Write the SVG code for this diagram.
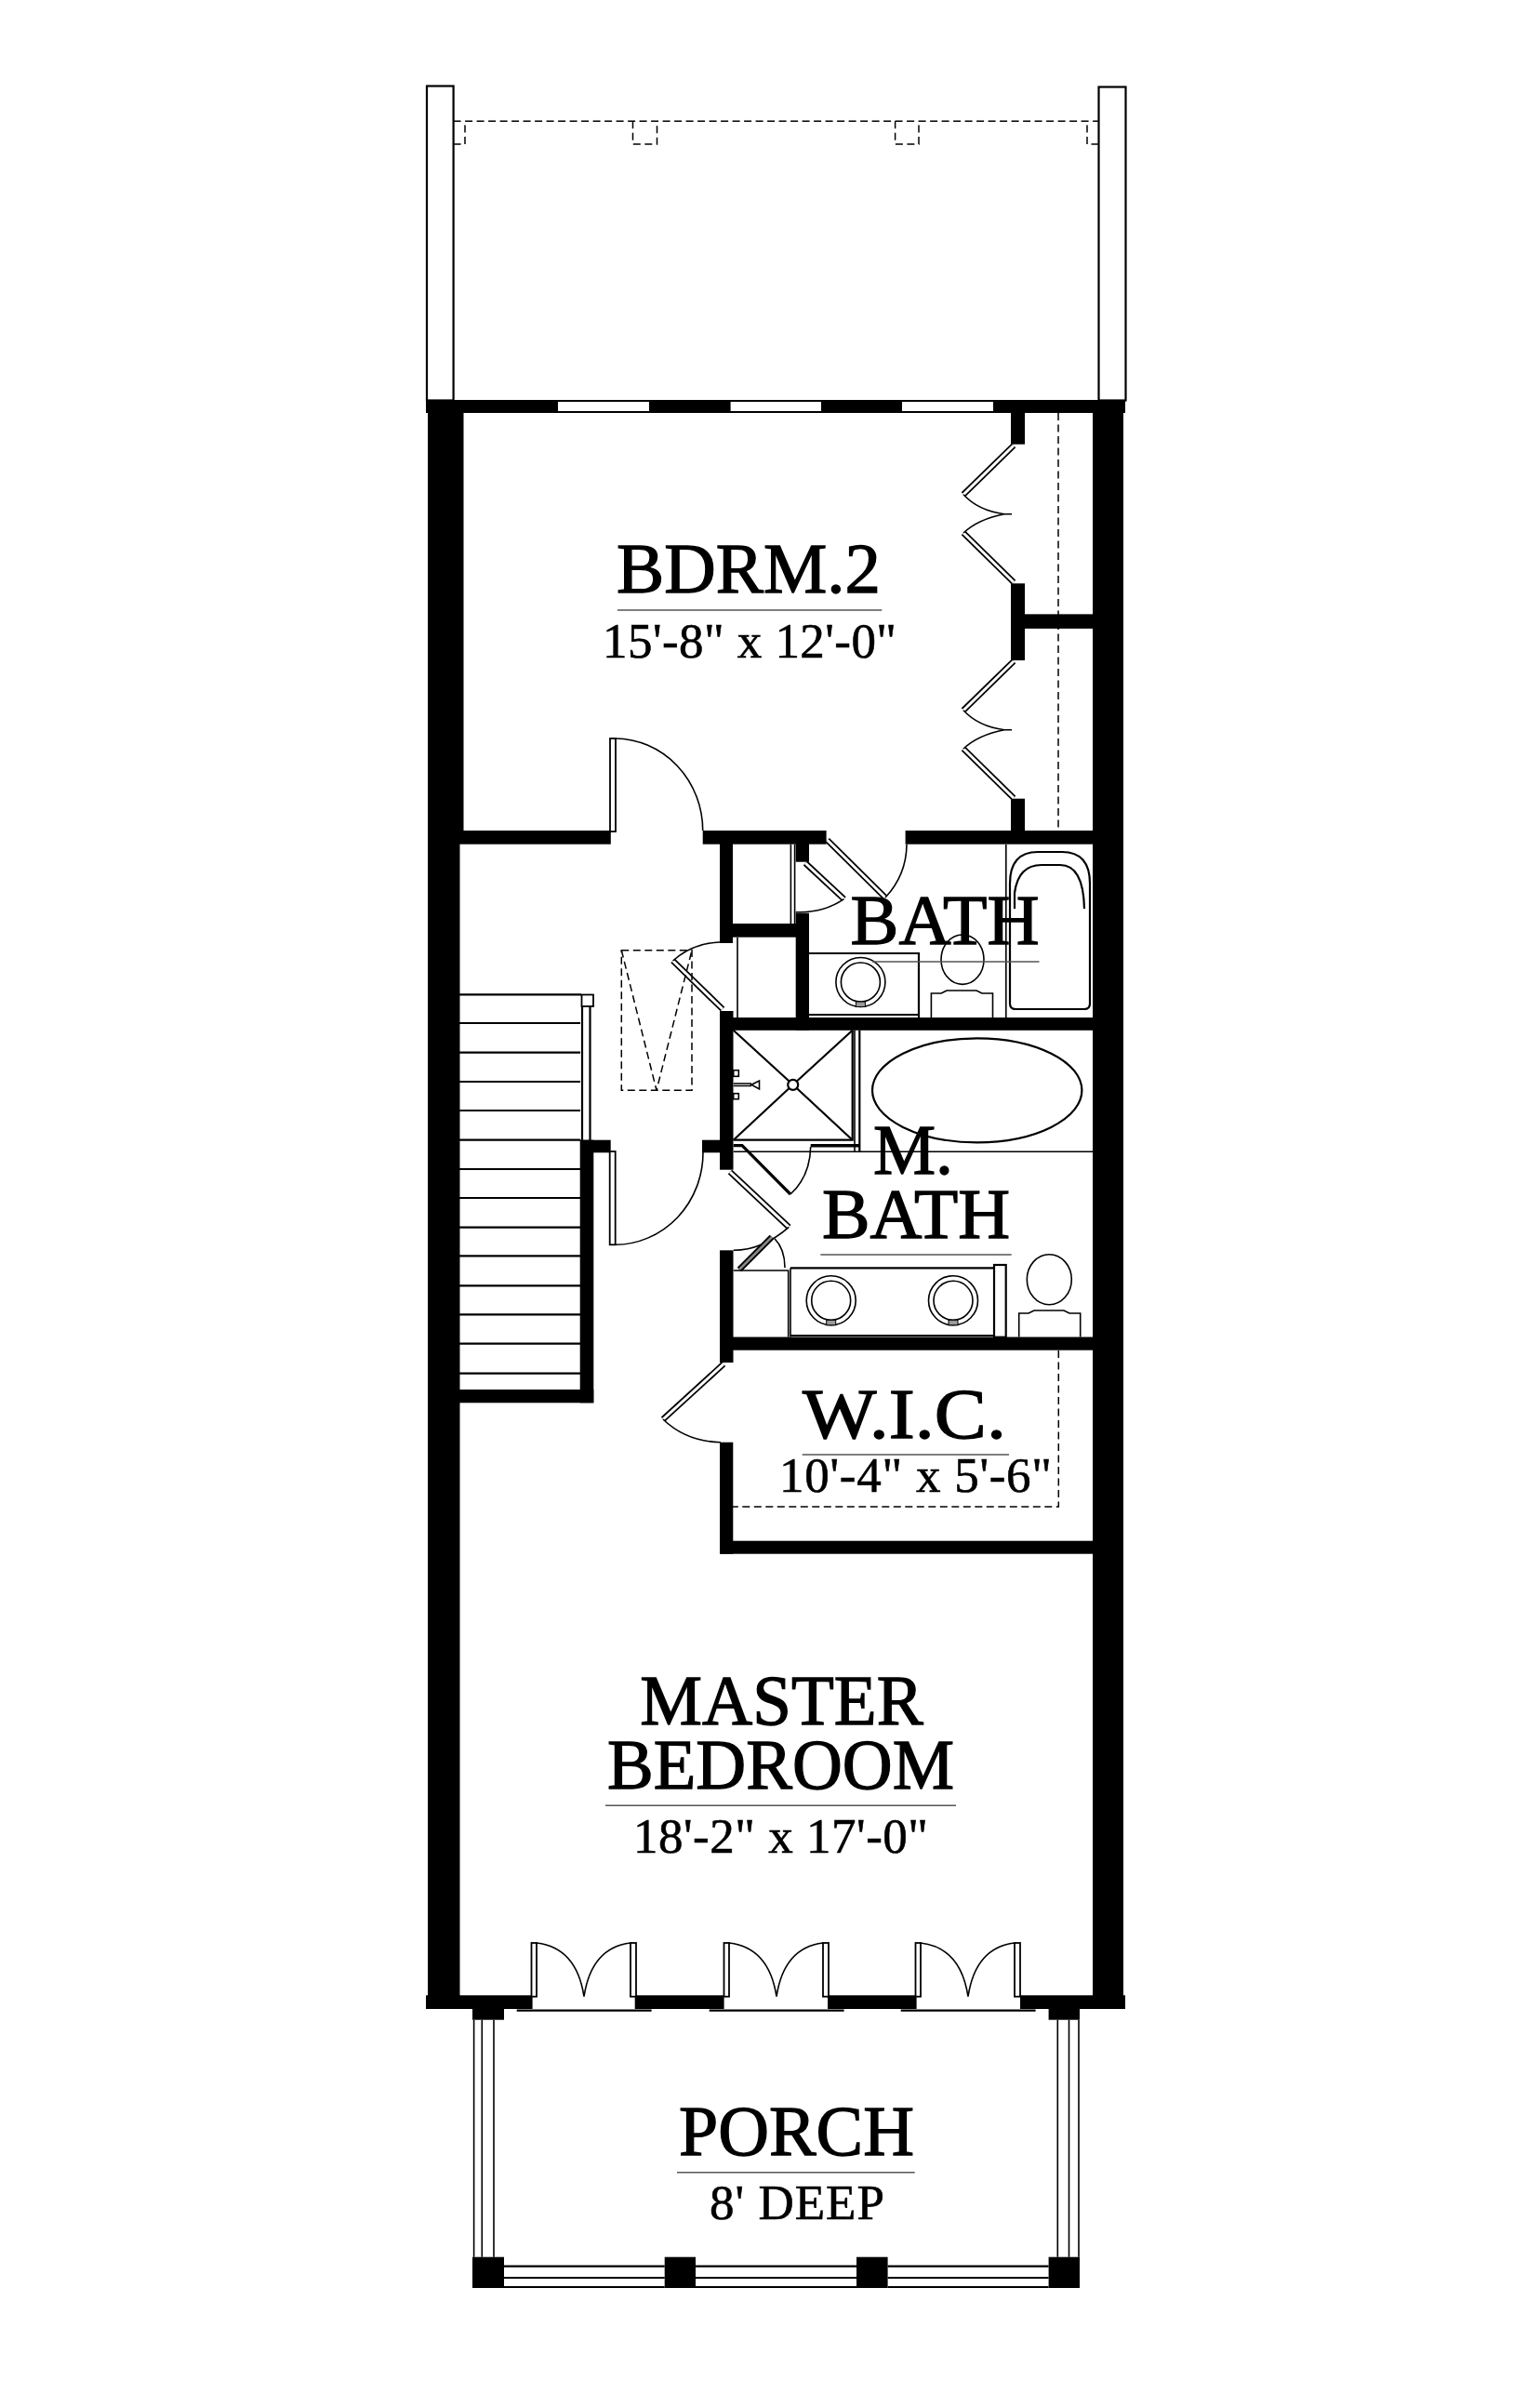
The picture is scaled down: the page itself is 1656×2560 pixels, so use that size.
<svg xmlns="http://www.w3.org/2000/svg" xmlns:xlink="http://www.w3.org/1999/xlink" width="1656" height="2560" viewBox="0 0 1656 2560">
<style>
.w{fill:#000}
.l{fill:none;stroke:#000;stroke-width:1.6}
.t{fill:none;stroke:#000;stroke-width:2.2}
.d{fill:none;stroke:#000;stroke-width:1.5;stroke-dasharray:8 4.5}
.r{fill:none;stroke:#555;stroke-width:1.5}
.lo{stroke:#000;stroke-width:6.5;fill:none}
.li{stroke:#fff;stroke-width:3;fill:none}
.wh{fill:#fff;stroke:#000;stroke-width:1.8}
.cap{font-family:"Liberation Serif","Times New Roman",serif;font-size:77px;fill:#000;stroke:#000;stroke-width:1.3}
.dim{font-family:"Liberation Serif","Times New Roman",serif;font-size:53px;fill:#000;stroke:#000;stroke-width:.6}
</style>
<defs>
<g id="sink"><circle r="26.5" class="l"/><circle r="21" class="l"/><rect x="-5" y="21" width="10" height="5.5" fill="#999" stroke="#000" stroke-width="1"/></g>
<g id="bifold">
<line class="lo" x1="1090" y1="479" x2="1036" y2="531.7"/><line class="li" x1="1090" y1="479" x2="1036" y2="531.7"/>
<line class="lo" x1="1036" y1="573" x2="1090" y2="626"/><line class="li" x1="1036" y1="573" x2="1090" y2="626"/>
<path class="l" d="M1036 531.7Q1052 549 1080 552.7L1088 552.7M1036 573Q1052 558 1080 552.7"/>
</g>
<g id="french">
<rect class="wh" x="571.5" y="2089" width="5.5" height="57.7"/><rect class="wh" x="678" y="2089" width="6" height="57.7"/>
<path class="l" d="M577 2089Q620 2094 628 2146.7Q636 2094 678 2089"/>
<line class="t" x1="555.7" y1="2161.7" x2="700.6" y2="2161.7"/>
</g>
</defs>
<rect width="1656" height="2560" fill="#fff"/>

<g id="upper-deck">
<rect class="t" x="459" y="92.5" width="28.6" height="338" fill="none"/>
<rect class="t" x="1181.5" y="93.5" width="29" height="337" fill="none"/>
<line class="d" x1="487.6" y1="130.3" x2="1181.5" y2="130.3"/>
<path class="d" d="M487.6 155H500V130.3M680.5 130.3V155H706.5V130.3M962.6 130.3V155H988V130.3M1181.5 155H1169V130.3"/>
</g>

<g id="walls" class="w">
<rect x="458" y="430" width="752" height="14"/>
<rect x="460" y="430" width="34.5" height="1730"/>
<rect x="460" y="430" width="38.5" height="477"/>
<rect x="1175" y="430" width="33" height="1730"/>
<rect x="494" y="893" width="162.8" height="14.7"/>
<rect x="755.7" y="893" width="132.9" height="14.7"/>
<rect x="973.6" y="893" width="202" height="14.7"/>
<rect x="1087" y="444" width="15" height="33.7"/>
<rect x="1087" y="627.3" width="15" height="82.7"/>
<rect x="1087" y="858.7" width="15" height="34.5"/>
<rect x="1102" y="660.7" width="73" height="15"/>
<rect x="774" y="907" width="14" height="107"/>
<rect x="788" y="993" width="68" height="14.7"/>
<rect x="855.7" y="981.7" width="14.3" height="126"/>
<rect x="855.7" y="907" width="14.3" height="19.7"/>
<rect x="774" y="1094" width="401" height="13.8"/>
<rect x="774" y="1087" width="14.5" height="170.7"/>
<rect x="624" y="1225.7" width="32.7" height="13.6"/>
<rect x="755" y="1225.7" width="20" height="13.6"/>
<rect x="623.7" y="1225.7" width="14.6" height="282.6"/>
<rect x="494" y="1494" width="144.3" height="14.3"/>
<rect x="774" y="1344.3" width="14.5" height="120.7"/>
<rect x="774" y="1437.5" width="401" height="14.2"/>
<rect x="774" y="1550.7" width="14.3" height="120"/>
<rect x="774" y="1656.7" width="401" height="14"/>
<rect x="458" y="2145.3" width="114.6" height="14.7"/>
<rect x="682.7" y="2145.3" width="95.9" height="14.7"/>
<rect x="890" y="2145.3" width="95.6" height="14.7"/>
<rect x="1097" y="2145.3" width="113" height="14.7"/>
<rect x="508" y="2160" width="34" height="11.7"/>
<rect x="1127.6" y="2160" width="33.4" height="11.7"/>
<rect x="508" y="2426.7" width="34" height="33.3"/>
<rect x="714.7" y="2426.7" width="33.3" height="33.3"/>
<rect x="921" y="2426.7" width="33.6" height="33.3"/>
<rect x="1127.6" y="2426.7" width="33.4" height="33.3"/>
</g>

<g id="windows" fill="#fff">
<rect x="600" y="432" width="98" height="10"/>
<rect x="785.6" y="432" width="97.4" height="10"/>
<rect x="970" y="432" width="98" height="10"/>
</g>

<g id="bdrm2-closets">
<line class="d" x1="1138" y1="444" x2="1138" y2="893"/>
<line class="w" x1="1102" y1="668" x2="1175" y2="668" stroke="#000" stroke-width="15"/>
<use xlink:href="#bifold" href="#bifold"/>
<use xlink:href="#bifold" href="#bifold" transform="translate(0 232)"/>
</g>

<g id="doors">
<rect class="wh" x="656" y="794" width="6" height="100"/>
<path class="l" d="M662 794A95 99 0 0 1 755.7 893"/>
<rect class="wh" x="655.7" y="1238" width="6" height="100.3"/>
<path class="l" d="M661.7 1338.3A95 99 0 0 0 756 1239"/>
<line class="lo" x1="889.6" y1="903.3" x2="952" y2="965"/><line class="li" x1="889.6" y1="903.3" x2="952" y2="965"/>
<path class="l" d="M952 965A85 85 0 0 0 975 907.7"/>
<line class="lo" x1="866" y1="928" x2="907.5" y2="966.7"/><line class="li" x1="866" y1="928" x2="907.5" y2="966.7"/>
<path class="l" d="M907.5 966.7Q885 982 855.7 980.7"/>
<line class="lo" x1="723.6" y1="1033" x2="777" y2="1085"/><line class="li" x1="723.6" y1="1033" x2="777" y2="1085"/>
<path class="l" d="M723.6 1033Q745 1014 774 1013"/>
<line class="lo" x1="785" y1="1260" x2="848.3" y2="1319.3"/><line class="li" x1="785" y1="1260" x2="848.3" y2="1319.3"/>
<path class="l" d="M848.3 1319.3Q820 1344 788.7 1344.3"/>
<path d="M788.7 1231.7H798L850 1284" fill="none" stroke="#000" stroke-width="3.2"/>
<path class="l" d="M850 1284Q871 1265 871.7 1233"/>
<line x1="795" y1="1365" x2="830" y2="1330" stroke="#000" stroke-width="6.5"/><line x1="795" y1="1365" x2="830" y2="1330" stroke="#888" stroke-width="2.5"/>
<path class="l" d="M833 1331.7Q844 1343 844 1363"/>
<line class="lo" x1="778" y1="1466.7" x2="713" y2="1526"/><line class="li" x1="778" y1="1466.7" x2="713" y2="1526"/>
<path class="l" d="M713 1526Q738 1550 775 1550.7"/>
<use xlink:href="#french" href="#french"/>
<use xlink:href="#french" href="#french" transform="translate(207 0)"/>
<use xlink:href="#french" href="#french" transform="translate(413 0)"/>
</g>

<g id="stairs">
<path class="t" d="M494 1069.3H625M494 1100H624M494 1131.7H624M494 1163H624M494 1194H624M494 1225.7H624M494 1257H624M494 1288H624M494 1319.7H624M494 1350.3H624M494 1382.3H624M494 1413.3H624M494 1444.7H624M494 1476.7H624"/>
<rect class="wh" x="625.5" y="1069.5" width="12.5" height="12.5"/>
<path class="t" d="M626 1082V1226M634.5 1082V1226"/>
<rect class="d" x="668.3" y="1021.7" width="75.7" height="150.6"/>
<path class="d" d="M668.3 1021.7L706 1172.3L744 1021.7"/>
</g>

<g id="bath-fixtures">
<path class="l" d="M850.4 907.7V993M854.6 907.7V993M793 1008V1094"/>
<path class="t" d="M870 1025H988V1094M870 1091H988"/>
<use xlink:href="#sink" href="#sink" x="925.4" y="1056"/>
<ellipse class="l" cx="1035" cy="1031.7" rx="23" ry="26.7"/>
<path class="l" d="M1001.4 1094V1068H1012L1018 1065H1050L1056 1068H1067.5V1094"/>
<path class="l" d="M1081.8 908V1094"/>
<path class="t" d="M1086 1079V950Q1086 916 1116 916H1142Q1172 916 1172 950V1079Q1172 1085 1166 1085H1092Q1086 1085 1086 1079Z"/>
<path class="t" d="M1091 977V960Q1095 930 1120 930H1140Q1165 930 1166 977"/>
</g>

<g id="mbath-fixtures">
<path class="t" d="M788.7 1107.7L852.7 1166.3M916.7 1107.7L852.7 1166.3M788.7 1225.7L852.7 1166.3M916.7 1225.7L852.7 1166.3"/>
<circle cx="852.7" cy="1166.3" r="5.5" fill="#fff" stroke="#000" stroke-width="2.2"/>
<path class="t" d="M788.7 1225.7H916.7V1107.7M924.3 1107.7V1238"/>
<path d="M871.7 1231.7H924" stroke="#000" stroke-width="3.5" fill="none"/>
<line class="l" x1="919" y1="1107.7" x2="919" y2="1238"/>
<line class="l" x1="788.7" y1="1238.3" x2="1175" y2="1238.3"/>
<rect class="l" x="788.7" y="1150.7" width="5.6" height="6.6"/>
<rect class="l" x="788.7" y="1175.7" width="5.6" height="6"/>
<path class="l" d="M788.7 1165H808M788.7 1167.5H808M808 1166.3L816.5 1162V1171Z"/>
<ellipse class="t" cx="1050.7" cy="1172.3" rx="112.7" ry="56"/>
<path class="l" d="M788.7 1366H848.3M847.7 1366V1437.5M850 1363.3V1437.5"/>
<path class="t" d="M850 1363.3H1068M850 1436H1068"/>
<use xlink:href="#sink" href="#sink" x="893.7" y="1398.3"/>
<use xlink:href="#sink" href="#sink" x="1025" y="1398.3"/>
<rect class="t" x="1069" y="1360" width="12.7" height="77.7"/>
<ellipse class="l" cx="1128.3" cy="1375.7" rx="24" ry="27"/>
<path class="l" d="M1095.7 1437.5V1412H1106L1112 1409H1144L1150 1412H1161.7V1437.5"/>
</g>

<g id="wic">
<path class="d" d="M1138.3 1452V1620H788"/>
</g>

<g id="porch-rails">
<path class="l" d="M509.6 2171.7V2426.7M518.3 2171.7V2426.7M531 2171.7V2426.7M1137.3 2171.7V2426.7M1149.5 2171.7V2426.7M1160 2171.7V2426.7"/>
<path class="t" d="M542 2436.7H714.7M542 2449H714.7M542 2459H714.7M748 2436.7H921M748 2449H921M748 2459H921M954.6 2436.7H1127.6M954.6 2449H1127.6M954.6 2459H1127.6"/>
</g>

<g id="labels">
<g id="label-bdrm2">
<text class="cap" x="663" y="637.3" textLength="284" lengthAdjust="spacingAndGlyphs">BDRM.2</text>
<line class="r" x1="664" y1="656" x2="948.3" y2="656"/>
<text class="dim" x="648" y="706.7" textLength="316" lengthAdjust="spacing">15'-8" x 12'-0"</text>
</g>
<g id="label-bath">
<line class="r" x1="938" y1="1034" x2="1117.5" y2="1034"/>
<text class="cap" x="914.6" y="1015" textLength="203" lengthAdjust="spacingAndGlyphs">BATH</text>
</g>
<g id="label-mbath">
<text class="cap" x="939" y="1261.7" textLength="86" lengthAdjust="spacingAndGlyphs">M.</text>
<text class="cap" x="884" y="1330.7" textLength="202" lengthAdjust="spacingAndGlyphs">BATH</text>
<line class="r" x1="882.3" y1="1349" x2="1087.7" y2="1349"/>
</g>
<g id="label-wic">
<text class="cap" x="863" y="1546" textLength="219" lengthAdjust="spacingAndGlyphs">W.I.C.</text>
<line class="r" x1="862.7" y1="1564" x2="1085" y2="1564"/>
<text class="dim" x="838" y="1604" textLength="293" lengthAdjust="spacing">10'-4" x 5'-6"</text>
</g>
<g id="label-master">
<text class="cap" x="688.3" y="1854.3" textLength="304.4" lengthAdjust="spacingAndGlyphs">MASTER</text>
<text class="cap" x="653" y="1923.3" textLength="373" lengthAdjust="spacingAndGlyphs">BEDROOM</text>
<line class="r" x1="651" y1="1941.3" x2="1028" y2="1941.3"/>
<text class="dim" x="681" y="1992" textLength="317" lengthAdjust="spacing">18'-2" x 17'-0"</text>
</g>
<g id="label-porch">
<text class="cap" x="730" y="2316.7" textLength="253" lengthAdjust="spacingAndGlyphs">PORCH</text>
<line class="r" x1="728" y1="2335.7" x2="983.7" y2="2335.7"/>
<text class="dim" x="763" y="2385.7" textLength="188" lengthAdjust="spacing">8' DEEP</text>
</g>
</g>
</svg>
